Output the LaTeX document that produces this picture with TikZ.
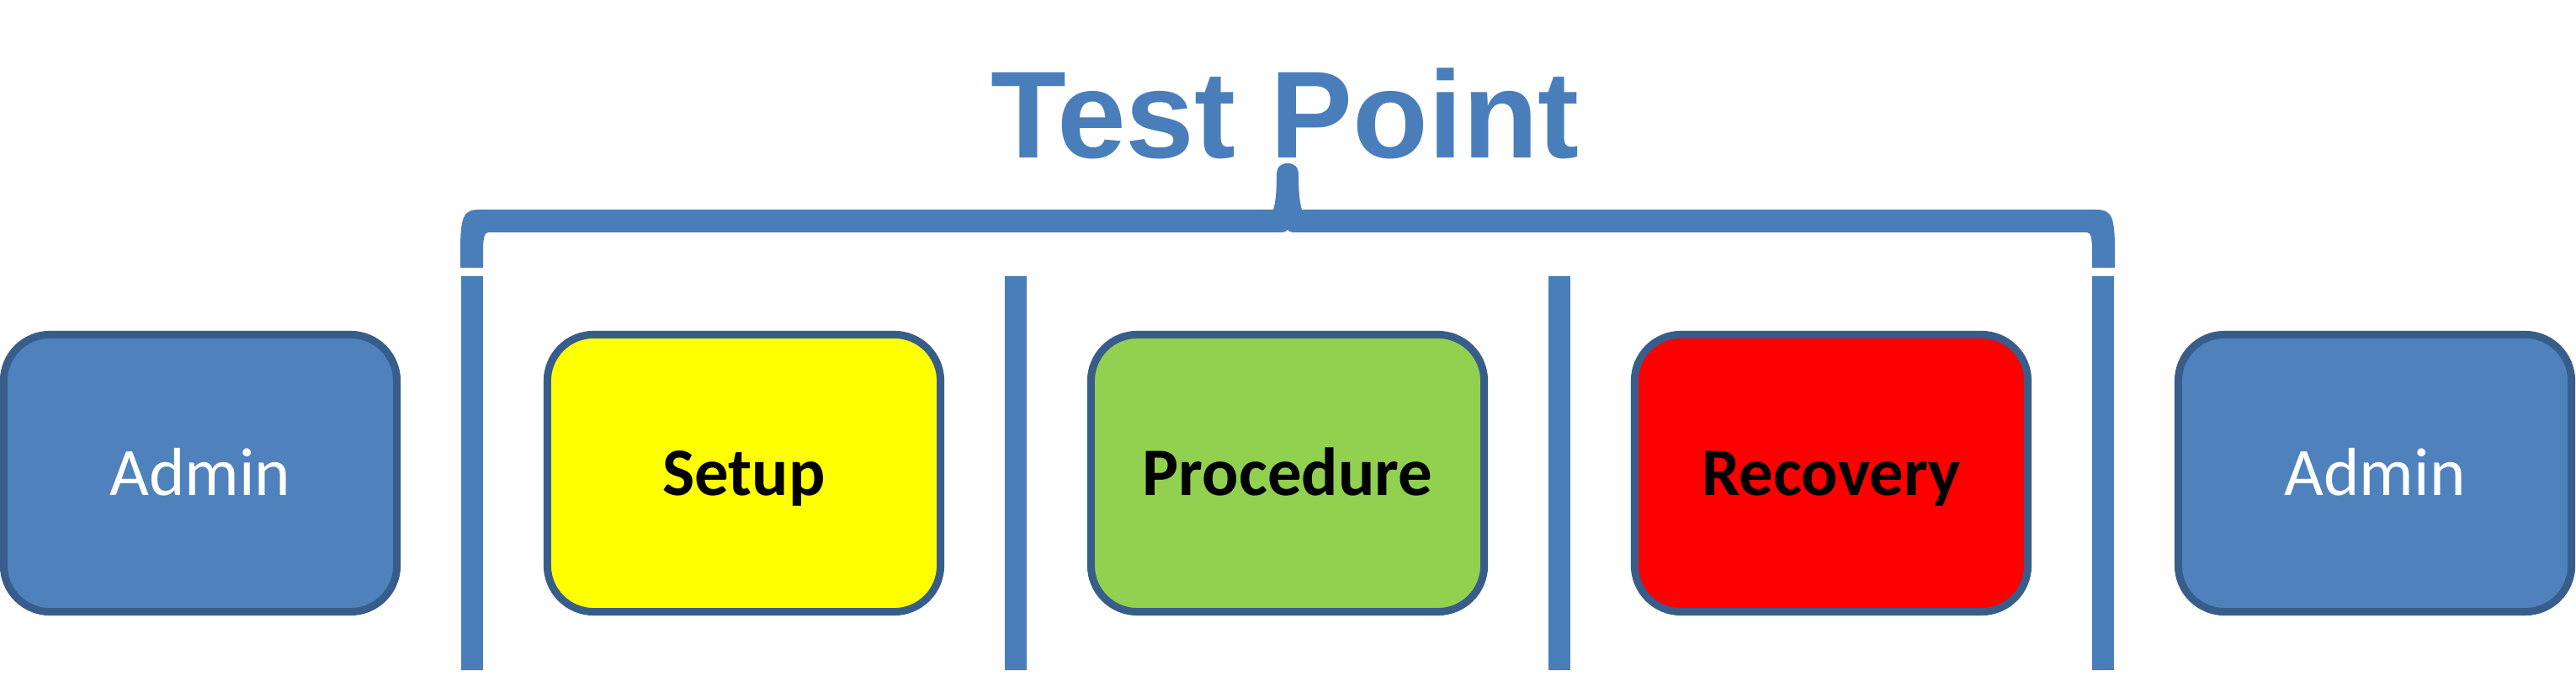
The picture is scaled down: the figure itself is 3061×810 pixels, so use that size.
\documentclass[tikz,border=0pt]{standalone}
\usepackage{fontspec}
\setmainfont{Carlito}
\newfontfamily\headfont{Liberation Sans}
\usepackage{xcolor}

\definecolor{adminfill}{HTML}{4F81BD}
\definecolor{boxline}{HTML}{385D8A}
\definecolor{tpblue}{HTML}{4A7EBB}
\definecolor{setupyellow}{HTML}{FFFF00}
\definecolor{procgreen}{HTML}{92D050}
\definecolor{recred}{HTML}{FF0000}

\tikzset{
  phase/.style={draw=boxline, line width=0.09cm, rounded corners=0.55cm,
    minimum width=4.67cm, minimum height=3.29cm, inner sep=0pt,
    text height=0.52cm, text depth=0pt, font=\fontsize{23}{28}\selectfont},
  admin/.style={phase, fill=adminfill, text=white},
  stage/.style={phase, font=\fontsize{23}{28}\selectfont\bfseries},
}

\begin{document}
\begin{tikzpicture}[x=0.01cm, y=-0.01cm]
        \useasboundingbox (0,0) rectangle (3061,810);
        % title over the brace
        \node[anchor=base, text=tpblue, font=\headfont\bfseries\fontsize{41.8}{50}\selectfont] (title) at (1527,188) {Test Point};
        \fill[tpblue] (547,318) -- (547,300) .. controls (547,258) and (550,249) .. (569,249)
            -- (1513,249) .. controls (1516,240) and (1517,225) .. (1517,208)
            .. controls (1517,198) and (1522,194) .. (1530,194)
            .. controls (1538,194) and (1543,198) .. (1543,208)
            .. controls (1543,225) and (1544,240) .. (1547,249)
            -- (2491,249) .. controls (2510,249) and (2513,258) .. (2513,300)
            -- (2513,318) -- (2486,318) -- (2486,300) .. controls (2486,285) and (2485,276) .. (2480,276)
            -- (1536,276) .. controls (1533,276) and (1531,274) .. (1530,273)
            .. controls (1529,274) and (1527,276) .. (1524,276)
            -- (580,276) .. controls (575,276) and (574,285) .. (574,300) -- (574,318) -- cycle;
        % separators
        \foreach \x in {561,1207,1853,2499}
            \fill[tpblue] (\x-13,328) rectangle (\x+13,796);
        % phases
        \node[admin] (adminpre) at (238,562) {Admin};
        \node[stage, fill=setupyellow] (setup) at (884,562) {Setup};
        \node[stage, fill=procgreen] (procedure) at (1530,562) {Procedure};
        \node[stage, fill=recred] (recovery) at (2176,562) {Recovery};
        \node[admin] (adminpost) at (2822,562) {Admin};
    \end{tikzpicture}
\end{document}
